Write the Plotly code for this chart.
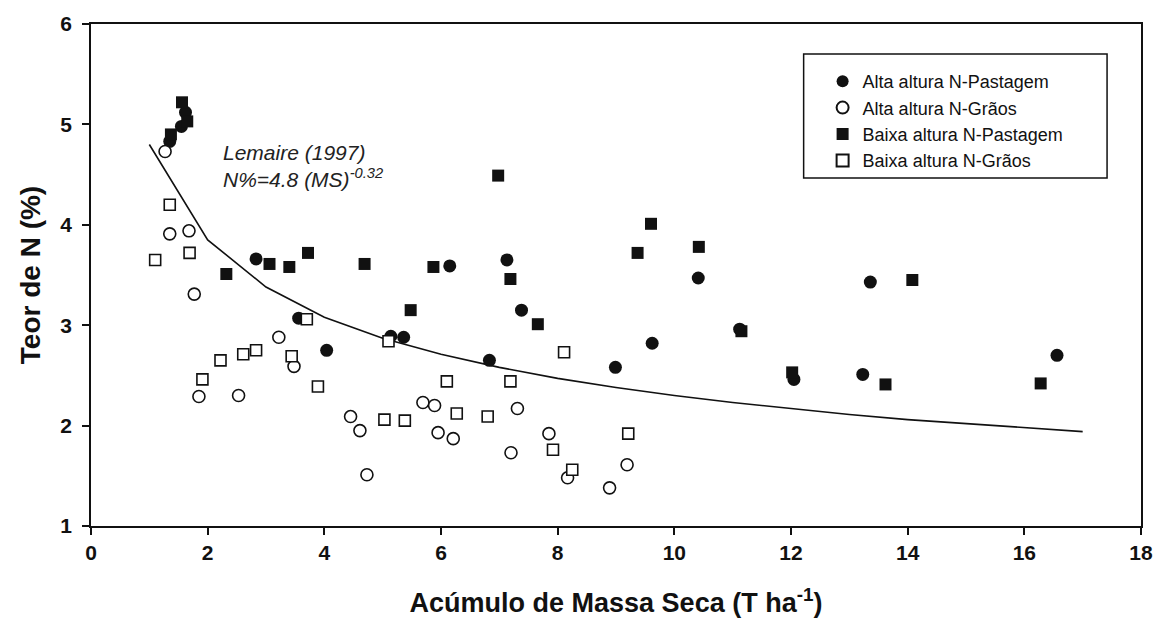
import plotly.graph_objects as go

# ---- data ----
alta_past_x = [1.35, 1.55, 1.62, 2.83, 3.56, 4.04, 5.14, 5.36, 6.15, 6.83, 7.13, 7.38, 8.99, 9.62, 10.41, 11.12, 12.05, 13.23, 13.36, 16.56]
alta_past_y = [4.83, 4.98, 5.12, 3.66, 3.07, 2.75, 2.89, 2.88, 3.59, 2.65, 3.65, 3.15, 2.58, 2.82, 3.47, 2.96, 2.46, 2.51, 3.43, 2.70]

alta_graos_x = [1.27, 1.35, 1.68, 1.77, 1.85, 2.53, 3.22, 3.48, 4.45, 4.61, 4.73, 5.69, 5.89, 5.95, 6.21, 7.20, 7.31, 7.85, 8.17, 8.89, 9.19]
alta_graos_y = [4.73, 3.91, 3.94, 3.31, 2.29, 2.30, 2.88, 2.59, 2.09, 1.95, 1.51, 2.23, 2.20, 1.93, 1.87, 1.73, 2.17, 1.92, 1.48, 1.38, 1.61]

baixa_past_x = [1.37, 1.56, 1.65, 2.32, 3.06, 3.40, 3.72, 4.69, 5.48, 5.87, 6.98, 7.19, 7.66, 9.37, 9.60, 10.42, 11.15, 12.02, 13.62, 14.08, 16.28]
baixa_past_y = [4.90, 5.22, 5.03, 3.51, 3.61, 3.58, 3.72, 3.61, 3.15, 3.58, 4.49, 3.46, 3.01, 3.72, 4.01, 3.78, 2.94, 2.53, 2.41, 3.45, 2.42]

baixa_graos_x = [1.10, 1.35, 1.69, 1.91, 2.22, 2.61, 2.83, 3.44, 3.70, 3.89, 5.03, 5.10, 5.38, 6.10, 6.27, 6.80, 7.19, 7.92, 8.11, 8.25, 9.21]
baixa_graos_y = [3.65, 4.20, 3.72, 2.46, 2.65, 2.71, 2.75, 2.69, 3.06, 2.39, 2.06, 2.84, 2.05, 2.44, 2.12, 2.09, 2.44, 1.76, 2.73, 1.56, 1.92]

# Lemaire (1997) critical curve, values read at whole-number MS
curve_x = [1, 2, 3, 4, 5, 6, 7, 8, 9, 10, 11, 12, 13, 14, 15, 16, 17]
curve_y = [4.80, 3.85, 3.38, 3.08, 2.87, 2.71, 2.58, 2.47, 2.38, 2.30, 2.23, 2.17, 2.11, 2.06, 2.02, 1.98, 1.94]

series_names = ["Alta altura N-Pastagem", "Alta altura N-Grãos",
                "Baixa altura N-Pastagem", "Baixa altura N-Grãos"]

x_ticks = [0, 2, 4, 6, 8, 10, 12, 14, 16, 18]
y_ticks = [1, 2, 3, 4, 5, 6]

FONT = "Liberation Sans, Arial, sans-serif"
BLACK = "#111111"

fig = go.Figure()

fig.add_trace(go.Scatter(x=curve_x, y=curve_y, mode="lines",
                         line=dict(color=BLACK, width=1.6), showlegend=False, hoverinfo="skip"))

fig.add_trace(go.Scatter(x=alta_past_x, y=alta_past_y, mode="markers", name=series_names[0],
                         marker=dict(symbol="circle", size=13, color=BLACK, line=dict(width=0))))
fig.add_trace(go.Scatter(x=alta_graos_x, y=alta_graos_y, mode="markers", name=series_names[1],
                         marker=dict(symbol="circle", size=12, color="white", line=dict(color=BLACK, width=1.6))))
fig.add_trace(go.Scatter(x=baixa_past_x, y=baixa_past_y, mode="markers", name=series_names[2],
                         marker=dict(symbol="square", size=12, color=BLACK, line=dict(width=0))))
fig.add_trace(go.Scatter(x=baixa_graos_x, y=baixa_graos_y, mode="markers", name=series_names[3],
                         marker=dict(symbol="square", size=11, color="white", line=dict(color=BLACK, width=1.6))))

axis_common = dict(showgrid=False, zeroline=False, showline=True, linecolor=BLACK, linewidth=1.5,
                   mirror=True, ticks="outside", ticklen=7, tickwidth=1.5, tickcolor=BLACK,
                   tickfont=dict(family=FONT, size=21, color=BLACK, weight="bold"))

fig.update_xaxes(range=[0, 18], tickvals=x_ticks, ticktext=[str(v) for v in x_ticks],
                 title=dict(text="<b>Acúmulo de Massa Seca (T ha<sup>-1</sup>)</b>",
                            font=dict(family=FONT, size=27, color=BLACK), standoff=30),
                 **axis_common)
fig.update_yaxes(range=[1, 6], tickvals=y_ticks, ticktext=[str(v) for v in y_ticks],
                 title=dict(text="<b>Teor de N (%)</b>",
                            font=dict(family=FONT, size=28, color=BLACK), standoff=12),
                 ticklabelstandoff=6,
                 **axis_common)

fig.add_annotation(x=2.22, y=4.72, xref="x", yref="y", xanchor="left", yanchor="middle",
                   text="<i>Lemaire (1997)</i>", showarrow=False,
                   font=dict(family=FONT, size=21, color="#222222"))
fig.add_annotation(x=2.22, y=4.47, xref="x", yref="y", xanchor="left", yanchor="middle",
                   text="<i>N%=4.8 (MS)<sup>-0.32</sup></i>",
                   showarrow=False,
                   font=dict(family=FONT, size=21, color="#222222"))

# legend frame
fig.add_shape(type="rect", xref="paper", yref="paper",
              x0=(805 - 91) / 1052, x1=(1109 - 91) / 1052,
              y0=(526 - 178) / 502, y1=(526 - 54) / 502,
              line=dict(color=BLACK, width=1.5), fillcolor="rgba(0,0,0,0)")

fig.update_layout(
    width=1165, height=626,
    margin=dict(l=91, r=22, t=24, b=100),
    paper_bgcolor="white", plot_bgcolor="white",
    font=dict(family=FONT, color=BLACK),
    legend=dict(x=(824 - 91) / 1052, y=(526 - 63) / 502, xanchor="left", yanchor="top",
                bgcolor="rgba(0,0,0,0)", borderwidth=0,
                font=dict(family=FONT, size=18, color=BLACK), itemsizing="constant",
                tracegroupgap=0),
)

fig.write_html("out.html")
